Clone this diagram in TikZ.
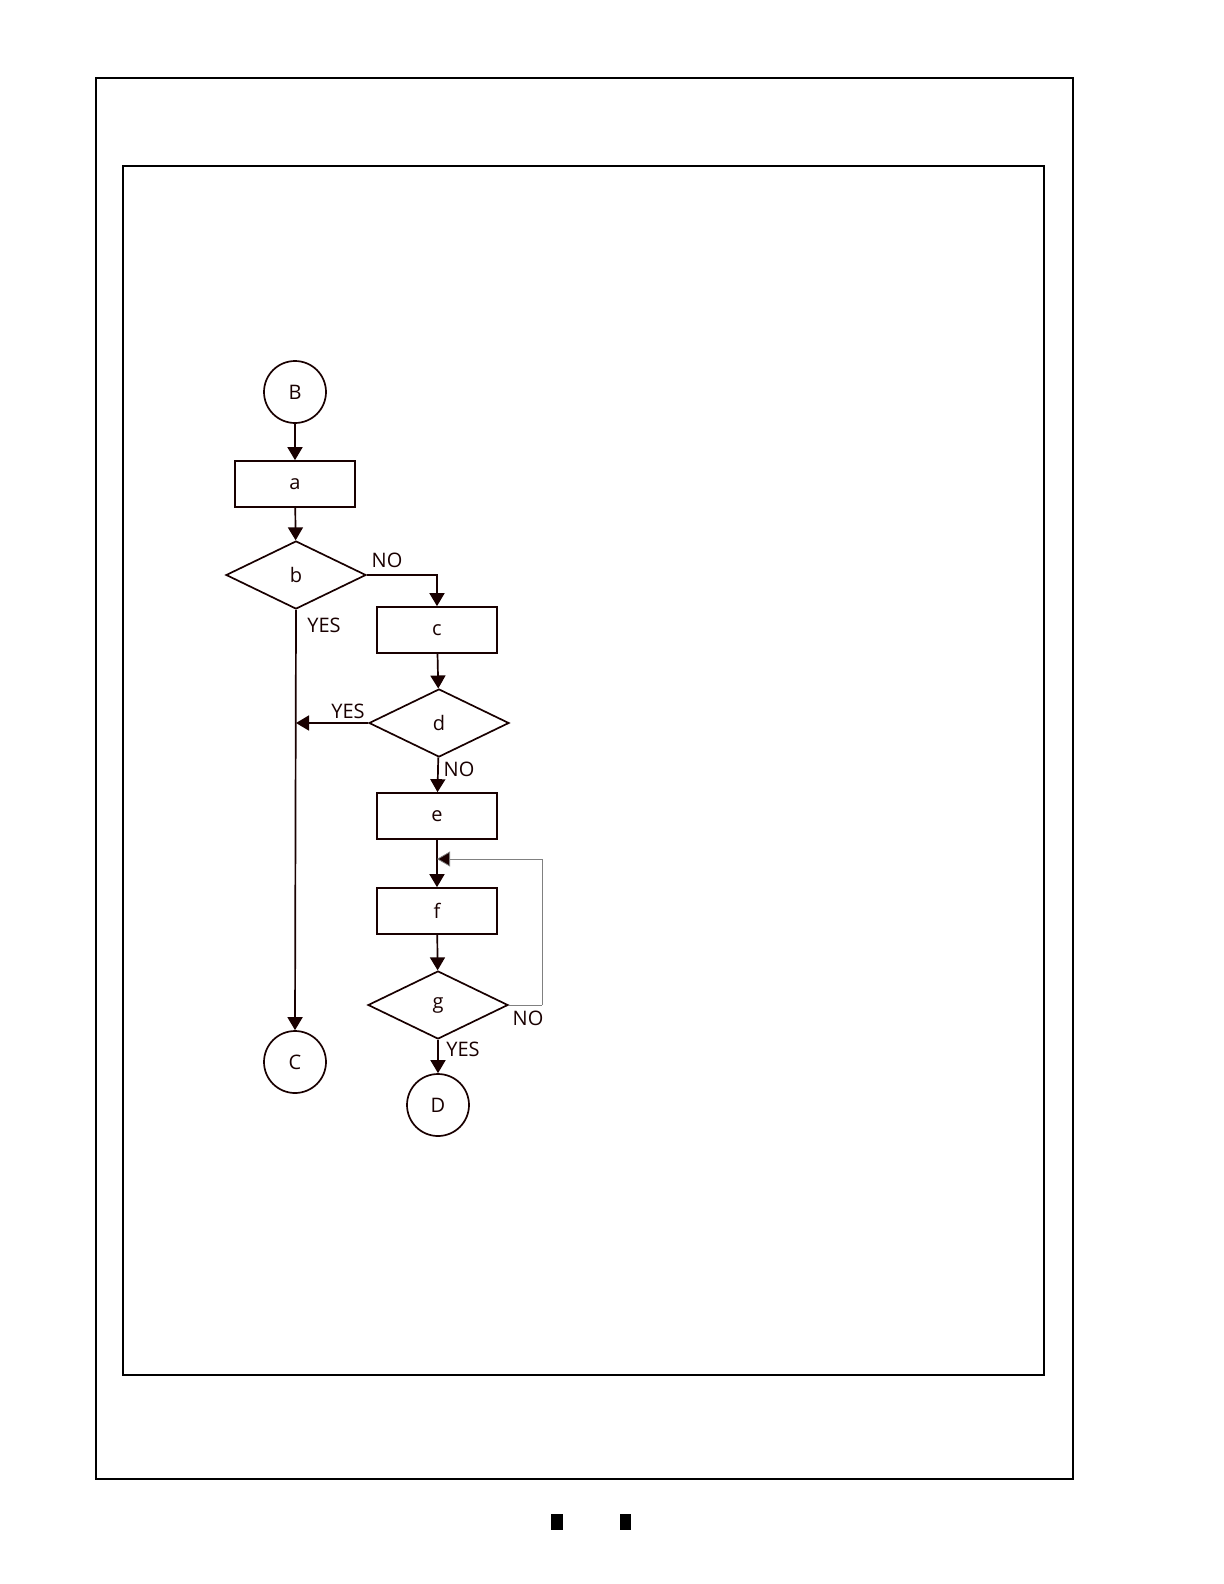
\documentclass[tikz,border=0pt]{standalone}
\usepackage{fontspec}
\setmainfont{Open Sans}
\usetikzlibrary{arrows.meta,shapes.geometric}

\begin{document}
\begin{tikzpicture}[x=0.5pt, y=-0.5pt,
    every node/.style={font=\fontsize{10}{12}\selectfont, text=black!90!red},
    line/.style={draw=black!90!red, line width=0.85pt},
    arr/.style={line, -{Triangle[length=6.5pt, width=7.5pt]}},
    thinarr/.style={draw=black!50, line width=0.4pt, -{Triangle[length=6.5pt, width=7.5pt, fill=black!90!red]}},
    procbox/.style={line, rectangle, minimum width=60pt, minimum height=23pt, inner sep=0pt},
    decision/.style={line, diamond, minimum width=70pt, minimum height=34pt, inner sep=0pt},
    connector/.style={line, circle, minimum size=31pt, inner sep=0pt}]
                    \useasboundingbox (0, 0) rectangle (1224, 1584);
                    \draw [line width=1pt] (96, 78) rectangle (1073, 1479);
                    \draw [line width=1pt] (123, 166) rectangle (1044, 1375);
                    \fill (551, 1514) rectangle (563, 1530);
                    \fill (620, 1514) rectangle (631, 1530);

                    \node [connector] (B) at (295, 392) {B};
                    \node [procbox] (a) at (295, 484) {a};
                    \node [decision] (b) at (296, 575) {b};
                    \node [procbox] (c) at (437, 630) {c};
                    \node [decision] (d) at (439, 723) {d};
                    \node [procbox] (e) at (437, 816) {e};
                    \node [procbox] (f) at (437, 911) {f};
                    \node [decision] (g) at (438, 1005) {g};
                    \node [connector] (C) at (295, 1062) {C};
                    \node [connector] (D) at (438, 1105) {D};

                    \coordinate (bd) at (296, 723);
                    \coordinate (ef) at (437, 859);
                    \coordinate (loop) at (542, 1005);

                    \draw [arr] (B) -- (a);
                    \draw [arr] (a) -- (b);
                    \draw [arr] (b.east) -| (c.north);
                    \draw [arr] (b.south) -- (C.north);
                    \draw [arr] (c) -- (d);
                    \draw [arr] (d.west) -- (bd);
                    \draw [arr] (d) -- (e);
                    \draw [arr] (e) -- (f);
                    \draw [arr] (f) -- (g);
                    \draw [arr] (g) -- (D);
                    \draw [draw=black!50, line width=0.4pt] (g.east) -- (loop);
                    \draw [thinarr] (loop) |- (ef);

                    \node (lbno) at (387, 560) {NO};
                    \node (lbyes) at (324, 625) {YES};
                    \node (ldyes) at (348, 711) {YES};
                    \node (ldno) at (459, 769) {NO};
                    \node (lgno) at (528, 1018) {NO};
                    \node (lgyes) at (463, 1049) {YES};
\end{tikzpicture}
\end{document}
